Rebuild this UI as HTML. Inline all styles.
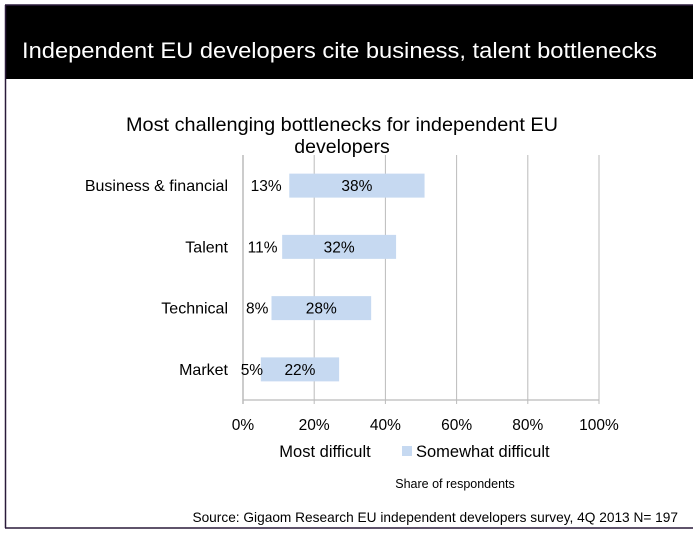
<!DOCTYPE html>
<html><head><meta charset="utf-8"><style>
body{margin:0;width:693px;height:532px;background:#fff;overflow:hidden;font-family:"Liberation Sans",sans-serif}
</style></head><body>
<svg width="693" height="532">
<rect x="0" y="0" width="693" height="532" fill="#fff"/>
<rect x="5" y="5" width="700" height="74" fill="#000"/>
<line x1="5.5" y1="5" x2="5.5" y2="528" stroke="#2a1a3a" stroke-width="1.5"/>
<line x1="5" y1="5" x2="693" y2="5" stroke="#2a1a3a" stroke-width="1.5"/>
<line x1="5" y1="528" x2="693" y2="528" stroke="#2a1a3a" stroke-width="1.5"/>
<text x="22" y="58" fill="#fff" font-size="22" textLength="635" lengthAdjust="spacingAndGlyphs">Independent EU developers cite business, talent bottlenecks</text>
<text x="342" y="131" text-anchor="middle" font-size="19.5" textLength="432" lengthAdjust="spacingAndGlyphs">Most challenging bottlenecks for independent EU</text>
<text x="342" y="153" text-anchor="middle" font-size="19.5">developers</text>
<g id="plot"></g>
<text x="325" y="457" text-anchor="middle" font-size="16.5">Most difficult</text>
<rect x="402" y="446" width="10" height="10" fill="#c6d9f1"/>
<text x="416" y="457" font-size="16.5">Somewhat difficult</text>
<text x="455" y="488" text-anchor="middle" font-size="12.5">Share of respondents</text>
<text x="678" y="522" text-anchor="end" font-size="13.7">Source: Gigaom Research EU independent developers survey, 4Q 2013 N= 197</text>
</svg>
<script>
const categories=["Business & financial","Talent","Technical","Market"];
const mostDifficult=[13,11,8,5];
const somewhatDifficult=[38,32,28,22];
const ticks=[0,20,40,60,80,100];
const X0=243,X1=599,YT=155,YB=400;
const x=v=>X0+(X1-X0)*v/100;
const band=(YB-YT)/categories.length;
const yc=i=>YT+band*(i+0.5);
const g=document.getElementById('plot');
const NS="http://www.w3.org/2000/svg";
function mk(t,a){const e=document.createElementNS(NS,t);for(const k in a)e.setAttribute(k,a[k]);g.appendChild(e);return e;}
ticks.forEach(t=>{
 const l=mk('line',{x1:x(t),x2:x(t),y1:YT,y2:YB+4,stroke:t===0?'#999':'#bbb','stroke-width':1});
 
 
 const tx=mk('text',{x:x(t),y:430,'text-anchor':'middle','font-size':15.5});
 tx.textContent=t+'%';
 
 
});
const ax=mk('line',{x1:X0,x2:X1,y1:YB,y2:YB,stroke:'#bbb','stroke-width':1.2});


categories.forEach((c,i)=>{
 const cy=yc(i);
 const lab=mk('text',{x:228,y:cy+5.5,'text-anchor':'end','font-size':16});
 lab.textContent=c;
 
 
 const m=mostDifficult[i],s=somewhatDifficult[i];
 const r=mk('rect',{x:x(m),y:cy-12,width:x(m+s)-x(m),height:24,fill:'#c6d9f1'});
 
 
 const t1=mk('text',{x:(x(0)+x(m))/2,y:cy+5.5,'text-anchor':'middle','font-size':15.5});
 t1.textContent=m+'%';
 
 
 const t2=mk('text',{x:(x(m)+x(m+s))/2,y:cy+5.5,'text-anchor':'middle','font-size':15.5});
 t2.textContent=s+'%';
 
 
});
</script>
</body></html>
